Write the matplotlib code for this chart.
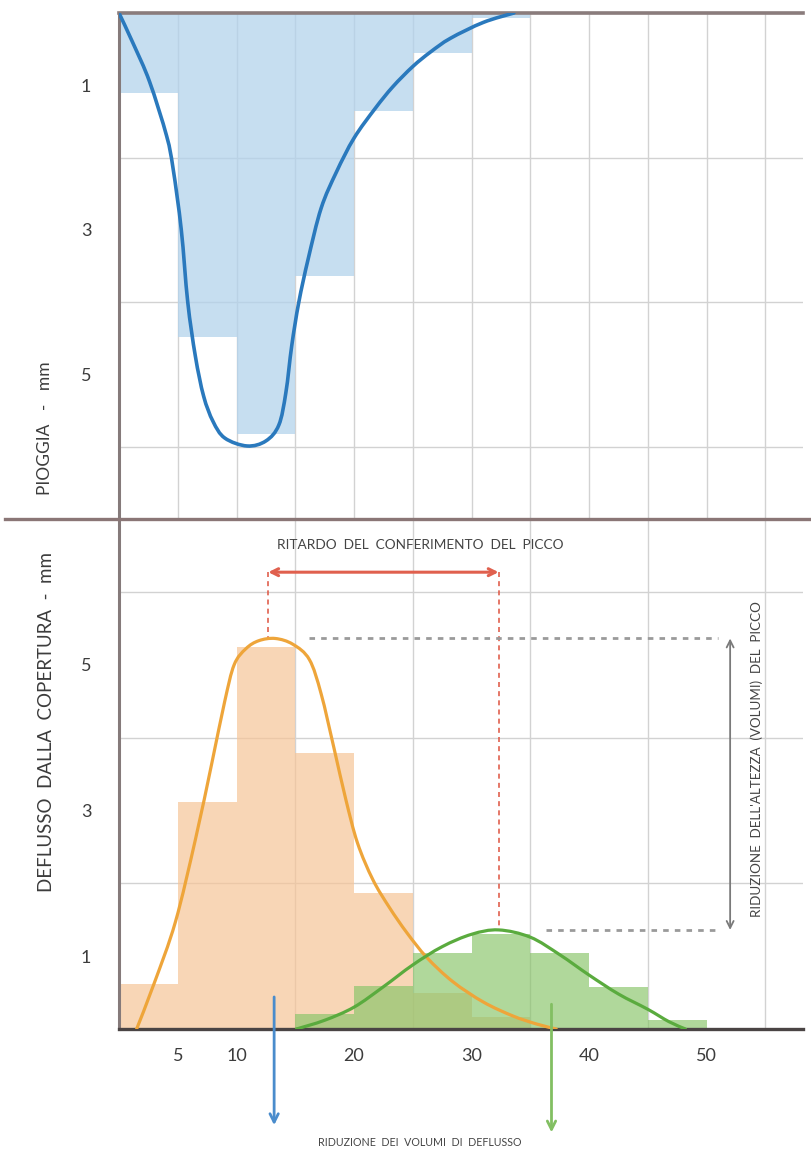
import matplotlib

matplotlib.use("Agg")
import matplotlib.pyplot as plt
import numpy as np
from matplotlib.lines import Line2D
from matplotlib.patches import PathPatch
from matplotlib.path import Path
from matplotlib.ticker import MultipleLocator

plt.rcParams["font.family"] = ["Lato", "DejaVu Sans"]

# rainfall histogram (top panel, 5-minute bins) and hyetograph curve
rain_bins = [0, 5, 10, 15, 20, 25, 30]
rain_mm = [1.1, 4.48, 5.83, 3.64, 1.35, 0.55, 0.07]
rain_t = [0, 1.2, 2.6, 4.05, 4.6, 5.3, 5.85, 6.5, 7.2, 8.0, 9.0, 10.9, 12.5,
          13.6, 14.2, 14.7, 15.3, 16.1, 17.2, 18.5, 20.0, 21.8, 23.3, 25.0,
          26.5, 28.2, 31.0, 33.6]
rain_curve = [0, 0.42, 0.95, 1.7, 2.15, 3.0, 4.0, 4.75, 5.3, 5.65, 5.88, 5.99,
              5.92, 5.7, 5.25, 4.6, 4.0, 3.4, 2.7, 2.2, 1.73, 1.32, 1.02, 0.74,
              0.54, 0.35, 0.13, 0.0]

# runoff, conventional roof (orange)
conv_bins = [0, 5, 10, 15, 20, 25, 30]
conv_mm = [0.62, 3.11, 5.24, 3.79, 1.87, 0.5, 0.17]
conv_t = [1.5, 3.0, 4.8, 6.5, 7.9, 9.0, 9.8, 10.8, 11.9, 13.3, 14.8, 16.2,
          17.2, 18.3, 19.3, 20.3, 21.6, 23.0, 24.5, 26.2, 28.4, 31.0, 33.5,
          35.5, 37.2]
conv_curve = [0, 0.63, 1.47, 2.6, 3.65, 4.5, 5.0, 5.22, 5.33, 5.36, 5.28, 5.07,
              4.6, 3.85, 3.15, 2.55, 2.05, 1.67, 1.32, 0.98, 0.65, 0.37, 0.18,
              0.07, 0.0]

# runoff, green roof (green)
green_bins = [15, 20, 25, 30, 35, 40, 45]
green_mm = [0.2, 0.59, 1.05, 1.3, 1.04, 0.58, 0.13]
green_t = [15.1, 17.5, 20.0, 22.5, 25.0, 27.5, 30.0, 32.3, 35.0, 37.5, 40.0,
           42.5, 45.0, 46.8, 48.2]
green_curve = [0, 0.12, 0.3, 0.58, 0.88, 1.13, 1.3, 1.36, 1.26, 1.02, 0.74,
               0.48, 0.27, 0.1, 0.0]

x_ticks = [5, 10, 20, 30, 40, 50]
y_ticks = [1, 3, 5]

conv_peak = (12.7, 5.36)
green_peak = (32.3, 1.36)


def smooth_curve(ax, xs, ys, **kw):
    # Catmull-Rom through the read points, drawn as cubic Bezier segments
    pts = np.column_stack([xs, ys]).astype(float)
    verts = [pts[0]]
    codes = [Path.MOVETO]
    n = len(pts)
    for i in range(n - 1):
        p0 = pts[i - 1] if i > 0 else pts[i]
        p1, p2 = pts[i], pts[i + 1]
        p3 = pts[i + 2] if i + 2 < n else pts[i + 1]
        verts += [p1 + (p2 - p0) / 6, p2 - (p3 - p1) / 6, p2]
        codes += [Path.CURVE4] * 3
    ax.add_patch(PathPatch(Path(verts, codes), fill=False, capstyle="round",
                           joinstyle="round", **kw))


W, H = 811, 1158
fig = plt.figure(figsize=(W / 100, H / 100), dpi=100)
left, right = 119 / W, 803 / W
ax_top = fig.add_axes([left, 1 - 519 / H, right - left, (519 - 13) / H])
ax_bot = fig.add_axes([left, 1 - 1029 / H, right - left, (1029 - 519) / H])

tick_color = "#3c3c3c"

for ax in (ax_top, ax_bot):
    ax.set_xlim(0, 58.2)
    ax.xaxis.set_minor_locator(MultipleLocator(5))
    ax.yaxis.set_minor_locator(MultipleLocator(1))
    ax.grid(which="minor", color="#d2d2d2", lw=1.0)
    ax.set_axisbelow(True)
    ax.tick_params(which="both", length=0, labelsize=13, colors=tick_color)
    ax.set_yticks(y_ticks)
    ax.spines["right"].set_visible(False)
    ax.spines["left"].set_color("#857a7a")
    ax.spines["left"].set_linewidth(2.2)

# top panel: rainfall
ax_top.set_ylim(7, 0)
ax_top.set_xticks([])
ax_top.tick_params(axis="y", pad=20)
ax_top.spines["bottom"].set_visible(False)
ax_top.spines["top"].set_color("#8a7c7c")
ax_top.spines["top"].set_linewidth(2.6)
ax_top.bar(rain_bins, rain_mm, width=5, align="edge", color="#b3d3ec",
           alpha=0.75, lw=0, zorder=1)
smooth_curve(ax_top, rain_t, rain_curve, edgecolor="#2a79bd", lw=2.6, zorder=3)

# bottom panel: runoff
ax_bot.set_ylim(0, 7)
ax_bot.set_xticks(x_ticks)
ax_bot.tick_params(axis="x", pad=14)
ax_bot.tick_params(axis="y", pad=20)
ax_bot.spines["top"].set_visible(False)
ax_bot.spines["bottom"].set_color("#4a4444")
ax_bot.spines["bottom"].set_linewidth(2.4)
ax_bot.bar(conv_bins, conv_mm, width=5, align="edge", color="#f6c597",
           alpha=0.7, lw=0, zorder=1)
ax_bot.bar(green_bins, green_mm, width=5, align="edge", color="#86c466",
           alpha=0.65, lw=0, zorder=1.5)
smooth_curve(ax_bot, conv_t, conv_curve, edgecolor="#eea53a", lw=2.3, zorder=3)
smooth_curve(ax_bot, green_t, green_curve, edgecolor="#5aab3e", lw=2.3, zorder=3)

# peak delay annotation
red = "#e0604e"
arrow_y = 6.27
ax_bot.annotate("", xy=(conv_peak[0], arrow_y), xytext=(green_peak[0], arrow_y),
                arrowprops=dict(arrowstyle="<->,head_length=0.5,head_width=0.25",
                                color=red, lw=2.2, shrinkA=0, shrinkB=0), zorder=4)
ax_bot.plot([conv_peak[0]] * 2, [arrow_y, conv_peak[1]], color=red, lw=1.2,
            ls=(0, (3, 2.5)), zorder=2)
ax_bot.plot([green_peak[0]] * 2, [arrow_y, green_peak[1]], color=red, lw=1.2,
            ls=(0, (3, 2.5)), zorder=2)
ax_bot.text(25.6, 6.64, "RITARDO  DEL  CONFERIMENTO  DEL  PICCO", ha="center",
            va="center", fontsize=9.8, color="#444444")

# peak height reduction
gray = "#9a9a9a"
ax_bot.plot([16.2, 51.0], [conv_peak[1]] * 2, color=gray, lw=2.0,
            ls=(0, (2, 2.2)), zorder=2)
ax_bot.plot([36.3, 50.8], [green_peak[1]] * 2, color=gray, lw=2.0,
            ls=(0, (2, 2.2)), zorder=2)
ax_bot.annotate("", xy=(52.0, conv_peak[1]), xytext=(52.0, green_peak[1]),
                arrowprops=dict(arrowstyle="<->,head_length=0.5,head_width=0.25",
                                color="#7a7a7a", lw=1.3, shrinkA=0, shrinkB=0))
ax_bot.text(54.3, 3.7, "RIDUZIONE  DELL'ALTEZZA  (VOLUMI)  DEL  PICCO",
            rotation=90, ha="center", va="center", fontsize=9.6, color="#444444")

# runoff volume reduction
ax_bot.annotate("", xy=(13.2, -1.32), xytext=(13.2, 0.44),
                arrowprops=dict(arrowstyle="->,head_length=0.6,head_width=0.3",
                                color="#4a8ccc", lw=2.0, shrinkA=0, shrinkB=0),
                annotation_clip=False)
ax_bot.annotate("", xy=(36.8, -1.42), xytext=(36.8, 0.34),
                arrowprops=dict(arrowstyle="->,head_length=0.6,head_width=0.3",
                                color="#82bf62", lw=2.0, shrinkA=0, shrinkB=0),
                annotation_clip=False)
ax_bot.text(25.6, -1.56, "RIDUZIONE  DEI  VOLUMI  DI  DEFLUSSO", ha="center",
            va="center", fontsize=7.7, color="#444444", clip_on=False)

# separator between the two panels
sep_y = 1 - 519 / H
fig.add_artist(Line2D([0.006, 1.0], [sep_y, sep_y], transform=fig.transFigure,
                      color="#8a7676", lw=2.4))

fig.text(45 / W, 1 - 428 / H, "PIOGGIA   -   mm", rotation=90, ha="center",
         va="center", fontsize=12.5, color="#3c3c3c")
fig.text(47 / W, 1 - 722 / H, "DEFLUSSO  DALLA  COPERTURA  -  mm", rotation=90,
         ha="center", va="center", fontsize=13.5, color="#3c3c3c")

fig.savefig("out.png", dpi=100, facecolor="white")
